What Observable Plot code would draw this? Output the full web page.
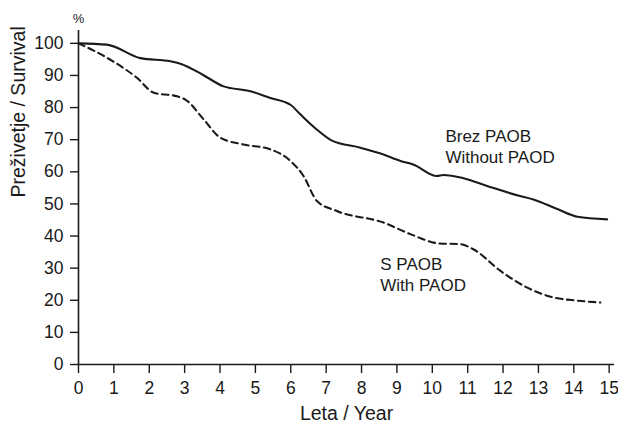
<!DOCTYPE html>
<html>
<head>
<meta charset="utf-8">
<script src="https://cdn.jsdelivr.net/npm/d3@7"></script>
<script src="https://cdn.jsdelivr.net/npm/@observablehq/plot@0.6"></script>
<style>
  html, body { margin: 0; padding: 0; background: #fff; }
  #chart { width: 618px; height: 424px; }
</style>
</head>
<body>
<div id="chart"></div>
<script>
// Survival without PAOD (solid line)
const yearsWithout = [0, 0.8, 1.75, 2.6, 2.9, 3.5, 4.1, 4.86, 5.42, 6.0, 6.27, 6.7, 7.15, 7.97, 8.62, 9.1, 9.46, 10.13, 10.31, 10.88, 11.55, 12.4, 12.86, 13.53, 14.1, 14.94];
const survWithout  = [100, 99.6, 95.4, 94.4, 93.6, 90.3, 86.6, 85.1, 83.0, 80.8, 77.9, 73.5, 69.8, 67.5, 65.4, 63.4, 62.3, 58.7, 59.0, 58.0, 55.6, 52.7, 51.4, 48.4, 46.0, 45.2];
// Survival with PAOD (dashed line)
const yearsWith = [0, 0.9, 1.66, 2.13, 2.79, 3.02, 3.54, 4.01, 4.67, 5.42, 5.99, 6.36, 6.74, 7.3, 8.62, 9.38, 10.2, 10.77, 11.16, 11.92, 12.67, 13.42, 14.09, 14.75];
const survWith  = [100, 94.9, 89.2, 84.6, 83.5, 82.5, 76.3, 70.6, 68.5, 67.0, 63.4, 58.7, 50.9, 47.8, 44.2, 40.6, 37.7, 37.5, 35.9, 29.2, 24.0, 20.9, 19.9, 19.3];

const xTicks = [0,1,2,3,4,5,6,7,8,9,10,11,12,13,14,15];
const yTicks = [0,10,20,30,40,50,60,70,80,90,100];

const labelWithout = ["Brez PAOB", "Without PAOD"];
const labelWith = ["S PAOB", "With PAOD"];
const xTitle = "Leta / Year";
const yTitle = "Preživetje / Survival";
const unit = "%";

const without = yearsWithout.map((t, i) => ({t, s: survWithout[i]}));
const withP = yearsWith.map((t, i) => ({t, s: survWith[i]}));

const ink = "#1a1a1a";

const chart = Plot.plot({
  width: 618,
  height: 424,
  marginLeft: 78,
  marginRight: 4,
  marginTop: 30,
  marginBottom: 60,
  x: {domain: [0, 15.15]},
  y: {domain: [0, 104]},
  style: {fontFamily: "'Liberation Sans', Arial, Helvetica, sans-serif", fontSize: "17.5px", color: ink, background: "#fff"},
  marks: [
    Plot.axisX({ticks: xTicks, tickSize: 9, tickPadding: 8, label: null, fontSize: 17.5, stroke: ink, strokeWidth: 1.4, tickFormat: d => String(d)}),
    Plot.axisY({ticks: yTicks, tickSize: 8, tickPadding: 7, label: null, fontSize: 17.5, stroke: ink, strokeWidth: 1.4, tickFormat: d => String(d)}),
    Plot.ruleY([0], {stroke: ink, strokeWidth: 1.6}),
    Plot.ruleX([0], {stroke: ink, strokeWidth: 1.6}),
    Plot.line(without, {x: "t", y: "s", curve: "monotone-x", stroke: ink, strokeWidth: 2.1}),
    Plot.line(withP, {x: "t", y: "s", curve: "monotone-x", stroke: ink, strokeWidth: 2.1, strokeDasharray: "6.5,4.5"}),
    Plot.text([labelWithout.join("\n")], {x: 10.37, y: 62.7, text: d => d, textAnchor: "start", lineAnchor: "bottom", lineHeight: 1.24, fontSize: 17, fill: ink}),
    Plot.text([labelWith.join("\n")], {x: 8.53, y: 22.8, text: d => d, textAnchor: "start", lineAnchor: "bottom", lineHeight: 1.24, fontSize: 17, fill: ink}),
    Plot.text([unit], {x: 0, y: 106.3, text: d => d, textAnchor: "middle", lineAnchor: "bottom", fontSize: 13, fill: ink}),
    Plot.text([xTitle], {frameAnchor: "bottom", text: d => d, lineAnchor: "bottom", dy: 55, fontSize: 19.5, fill: ink}),
    Plot.text([yTitle], {frameAnchor: "left", text: d => d, rotate: -90, dx: -60, fontSize: 19.5, fill: ink})
  ]
});
document.getElementById("chart").appendChild(chart);
</script>
</body>
</html>
